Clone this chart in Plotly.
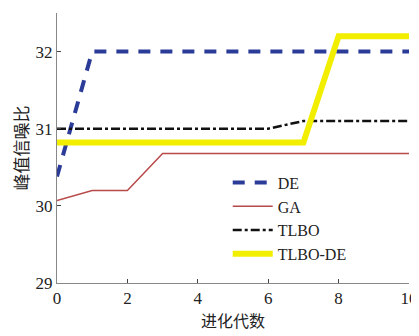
import plotly.graph_objects as go

gens = [0, 1, 2, 3, 4, 5, 6, 7, 8, 9, 10]
de = [30.38, 32.0, 32.0, 32.0, 32.0, 32.0, 32.0, 32.0, 32.0, 32.0, 32.0]
ga = [30.07, 30.2, 30.2, 30.68, 30.68, 30.68, 30.68, 30.68, 30.68, 30.68, 30.68]
tlbo = [31.0, 31.0, 31.0, 31.0, 31.0, 31.0, 31.0, 31.1, 31.1, 31.1, 31.1]
tlbo_de = [30.82, 30.82, 30.82, 30.82, 30.82, 30.82, 30.82, 30.82, 32.2, 32.2, 32.2]

xticks = [0, 2, 4, 6, 8, 10]
yticks = [29, 30, 31, 32]

fig = go.Figure()
fig.add_trace(go.Scatter(x=gens, y=de, name="DE", mode="lines",
                         line=dict(color="#2b3b98", width=4, dash="12px,10px")))
fig.add_trace(go.Scatter(x=gens, y=ga, name="GA", mode="lines",
                         line=dict(color="#b84a4a", width=1.5)))
fig.add_trace(go.Scatter(x=gens, y=tlbo, name="TLBO", mode="lines",
                         line=dict(color="#111111", width=2.5, dash="dashdot")))
fig.add_trace(go.Scatter(x=gens, y=tlbo_de, name="TLBO-DE", mode="lines",
                         line=dict(color="#f2ee00", width=6)))

# page body has an 8px margin, so plot margins compensate
fig.update_layout(
    width=411, height=328,
    margin=dict(l=49, r=10, t=5, b=53, autoexpand=False),
    paper_bgcolor="white", plot_bgcolor="white",
    font=dict(family="Liberation Serif", size=17, color="#222222"),
    legend=dict(x=0.485, y=0.435, xanchor="left", yanchor="top",
                bgcolor="rgba(0,0,0,0)", font=dict(size=16, family="Liberation Serif"),
                itemwidth=40, tracegroupgap=2),
    showlegend=True,
)
fig.update_xaxes(range=[0, 10], tickvals=xticks, ticks="inside", ticklen=4,
                 showline=True, linecolor="#888888", linewidth=1, showgrid=False,
                 zeroline=False, mirror=False, automargin=False,
                 title=dict(text="进化代数", font=dict(family="Noto Sans CJK SC", size=16), standoff=4))
fig.update_yaxes(range=[29, 32.5], tickvals=yticks, ticks="inside", ticklen=4,
                 showline=True, linecolor="#888888", linewidth=1, showgrid=False,
                 zeroline=False, mirror=False, automargin=False,
                 title=dict(text="峰值信噪比", font=dict(family="Noto Sans CJK SC", size=17), standoff=6))

fig.write_html("out.html")
